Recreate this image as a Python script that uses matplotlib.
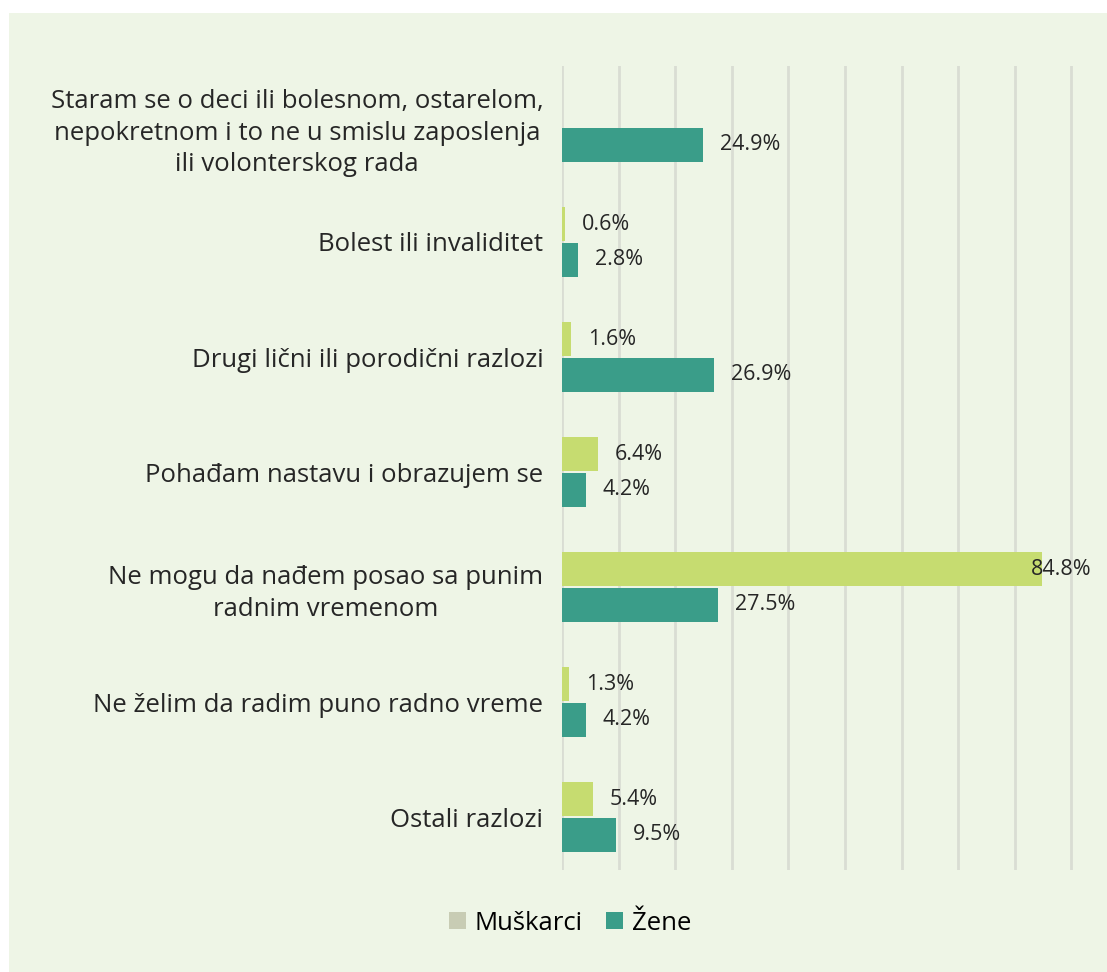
import matplotlib.pyplot as plt
from matplotlib.patches import Patch

plt.rcParams['font.family'] = ['Open Sans', 'DejaVu Sans']

categories = [
    "Staram se o deci ili bolesnom, ostarelom,\nnepokretnom i to ne u smislu zaposlenja\nili volonterskog rada",
    "Bolest ili invaliditet",
    "Drugi lični ili porodični razlozi",
    "Pohađam nastavu i obrazujem se",
    "Ne mogu da nađem posao sa punim\nradnim vremenom",
    "Ne želim da radim puno radno vreme",
    "Ostali razlozi",
]
muskarci = [0, 0.6, 1.6, 6.4, 84.8, 1.3, 5.4]
zene = [24.9, 2.8, 26.9, 4.2, 27.5, 4.2, 9.5]

bg = '#eef5e6'
c_m = '#c6dc70'
c_z = '#3a9d89'
fz = 18.5

fig = plt.figure(figsize=(11.07, 9.72), dpi=100)
fig.patch.set_facecolor('white')
# light panel behind the whole chart
fig.patches.append(plt.Rectangle((9 / 1107, 0), 1, 1 - 13 / 972, transform=fig.transFigure,
                                 facecolor=bg, edgecolor='none', zorder=-10))

ax = fig.add_axes([562 / 1107, 102 / 972, (1077 - 562) / 1107, (906 - 102) / 972])
ax.set_facecolor('none')

y = list(range(len(categories)))
off = 0.155
h = 0.295
ax.barh([i - off for i in y], muskarci, height=h, color=c_m, zorder=3)
ax.barh([i + off for i in y], zene, height=h, color=c_z, zorder=3)

for i in y:
    if muskarci[i] > 0:
        ax.text(min(muskarci[i] + 3, 82.9), i - off, f"{muskarci[i]:.1f}%", va='center', ha='left',
                fontsize=15.5, color='#262626', zorder=4)
    ax.text(min(zene[i] + 3, 82.9), i + off, f"{zene[i]:.1f}%", va='center', ha='left',
            fontsize=15.5, color='#262626', zorder=4)

ax.set_xlim(0, 91)
ax.set_ylim(6.46, -0.53)
ax.set_xticks(range(0, 91, 10))
ax.xaxis.grid(True, color='#d9ddd3', linewidth=2, zorder=0)
ax.tick_params(axis='x', bottom=False, labelbottom=False)
ax.tick_params(axis='y', left=False, pad=10)
ax.set_yticks(y)
ax.set_yticklabels(categories, fontsize=fz, color='#262626', multialignment='center',
                   linespacing=1.35)
for s in ax.spines.values():
    s.set_visible(False)

handles = [Patch(facecolor='#c8ccb4', edgecolor='none'), Patch(facecolor=c_z, edgecolor='none')]
fig.legend(handles, ['Muškarci', 'Žene'], loc='center', bbox_to_anchor=(570 / 1107, 1 - 923 / 972),
           ncol=2, frameon=False, fontsize=fz, handlelength=0.65, handleheight=0.65,
           handletextpad=0.35, columnspacing=0.9)

plt.savefig("out.png", dpi=100, facecolor=fig.get_facecolor())
plt.close()
